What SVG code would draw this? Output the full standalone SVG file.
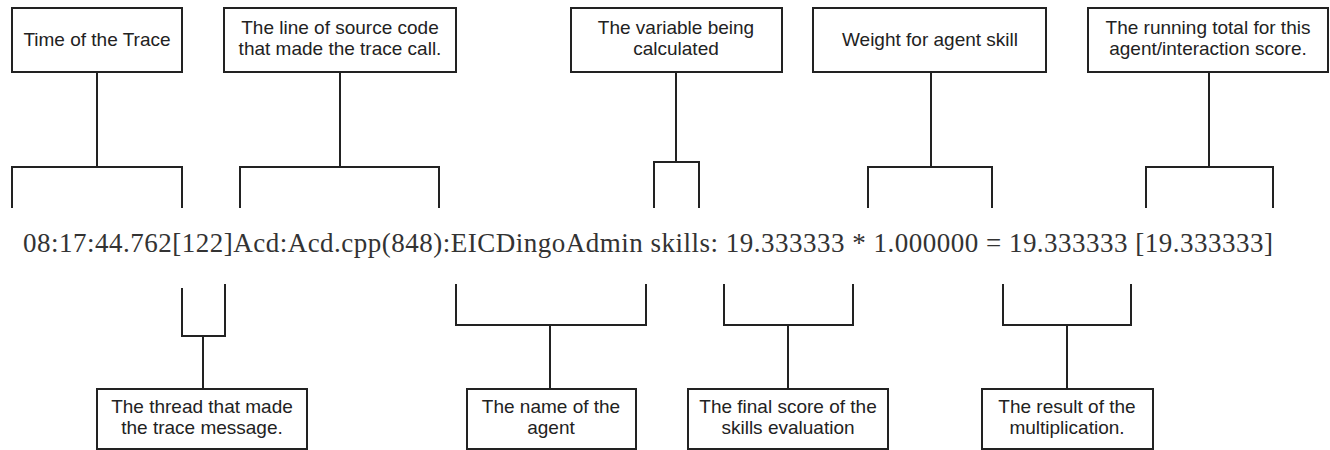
<svg xmlns="http://www.w3.org/2000/svg" width="1330" height="450" viewBox="0 0 1330 450">
<style>
.box{fill:#fff;stroke:#222;stroke-width:2}
.lbl{font-family:"Liberation Sans",Arial,sans-serif;font-size:19px;fill:#222;text-anchor:middle}
.trace{font-family:"Liberation Serif","Times New Roman",serif;font-size:27px;fill:#333}
#connectors path{fill:none;stroke:#222;stroke-width:2}
</style>
<rect width="1330" height="450" fill="#fff"/>
<g id="connectors">
<path d="M12,208 V167 H182 V208 M97,167 V72"/>
<path d="M240,208 V167 H439 V208 M340,167 V72"/>
<path d="M654,208 V162 H699 V208 M676,162 V72"/>
<path d="M868,208 V167 H992 V208 M931,167 V72"/>
<path d="M1146,208 V167 H1273 V208 M1209,167 V72"/>
<path d="M182,288 V336 H225 V284 M203,336 V389"/>
<path d="M456,284 V325 H646 V284 M550,325 V389"/>
<path d="M724,284 V325 H853 V284 M788,325 V389"/>
<path d="M1003,284 V325 H1131 V284 M1067,325 V389"/>
</g>
<g id="trace-line">
<text class="trace" x="23" y="252" textLength="1250" lengthAdjust="spacing">08:17:44.762[122]Acd:Acd.cpp(848):EICDingoAdmin skills: 19.333333 * 1.000000 = 19.333333 [19.333333]</text>
</g>
<g id="time">
<rect class="box" x="12" y="8" width="170" height="64"/>
<text class="lbl" x="97" y="46">Time of the Trace</text>
</g>
<g id="source">
<rect class="box" x="224" y="8" width="232" height="64"/>
<text class="lbl" x="340" y="34">The line of source code</text>
<text class="lbl" x="340" y="55">that made the trace call.</text>
</g>
<g id="variable">
<rect class="box" x="571" y="8" width="211" height="64"/>
<text class="lbl" x="676" y="34">The variable being</text>
<text class="lbl" x="676" y="55">calculated</text>
</g>
<g id="weight">
<rect class="box" x="813" y="8" width="233" height="64"/>
<text class="lbl" x="930" y="46">Weight for agent skill</text>
</g>
<g id="running">
<rect class="box" x="1088" y="8" width="240" height="64"/>
<text class="lbl" x="1208" y="34">The running total for this</text>
<text class="lbl" x="1208" y="55">agent/interaction score.</text>
</g>
<g id="thread">
<rect class="box" x="97" y="389" width="210" height="60"/>
<text class="lbl" x="202" y="413">The thread that made</text>
<text class="lbl" x="202" y="434">the trace message.</text>
</g>
<g id="agent">
<rect class="box" x="467" y="389" width="169" height="60"/>
<text class="lbl" x="551" y="413">The name of the</text>
<text class="lbl" x="551" y="434">agent</text>
</g>
<g id="final">
<rect class="box" x="688" y="389" width="200" height="60"/>
<text class="lbl" x="788" y="413">The final score of the</text>
<text class="lbl" x="788" y="434">skills evaluation</text>
</g>
<g id="result">
<rect class="box" x="982" y="389" width="171" height="60"/>
<text class="lbl" x="1067" y="413">The result of the</text>
<text class="lbl" x="1067" y="434">multiplication.</text>
</g>
</svg>
